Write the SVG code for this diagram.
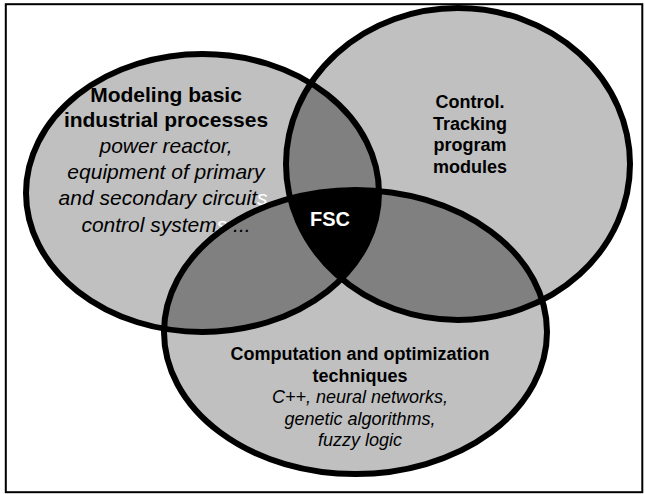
<svg xmlns="http://www.w3.org/2000/svg" xmlns:xlink="http://www.w3.org/1999/xlink" width="645" height="494" viewBox="0 0 645 494">
<style>
.outline{fill:none;stroke:#000;stroke-width:6}
.b{font-family:"Liberation Sans",Arial,sans-serif;font-weight:bold;fill:#000;text-anchor:middle}
.i{font-family:"Liberation Sans",Arial,sans-serif;font-style:italic;fill:#000;text-anchor:middle}
.w{fill:#fff}
</style>
<defs>
<ellipse id="eL" cx="202.5" cy="193" rx="176.5" ry="139"/>
<ellipse id="eR" cx="458" cy="164" rx="172" ry="156"/>
<ellipse id="eB" cx="355.5" cy="332" rx="191.5" ry="142"/>
<clipPath id="cL"><use xlink:href="#eL"/></clipPath>
<clipPath id="cR"><use xlink:href="#eR"/></clipPath>
</defs>
<rect x="5.8" y="4.2" width="636.5" height="488" fill="#fff" stroke="#000" stroke-width="2"/>
<g id="regions">
<use xlink:href="#eL" fill="#c0c0c0"/>
<use xlink:href="#eR" fill="#c0c0c0"/>
<use xlink:href="#eB" fill="#c0c0c0"/>
<g clip-path="url(#cL)"><use xlink:href="#eR" fill="#808080"/><use xlink:href="#eB" fill="#808080"/></g>
<g clip-path="url(#cR)"><use xlink:href="#eB" fill="#808080"/></g>
<g clip-path="url(#cL)"><g clip-path="url(#cR)"><use xlink:href="#eB" fill="#000"/></g></g>
</g>
<g id="node-modeling">
<use xlink:href="#eL" class="outline"/>
<text class="b" font-size="21" x="166" y="102">Modeling basic</text>
<text class="b" font-size="21" x="166" y="127">industrial processes</text>
<text class="i" font-size="21" x="166" y="153">power reactor,</text>
<text class="i" font-size="21" x="166" y="179">equipment of primary</text>
<text class="i" font-size="21" x="166" y="205">and secondary circuit<tspan class="w">s,</tspan></text>
<text class="i" font-size="21" x="166" y="232">control system<tspan class="w">s</tspan> ...</text>
</g>
<g id="node-control">
<use xlink:href="#eR" class="outline"/>
<text class="b" font-size="18" x="470" y="108">Control.</text>
<text class="b" font-size="18" x="470" y="129.5">Tracking</text>
<text class="b" font-size="18" x="470" y="151">program</text>
<text class="b" font-size="18" x="470" y="172.5">modules</text>
</g>
<g id="node-computation">
<use xlink:href="#eB" class="outline"/>
<text class="b" font-size="18" x="360" y="360">Computation and optimization</text>
<text class="b" font-size="18" x="360" y="381.5">techniques</text>
<text class="i" font-size="18" x="360" y="403">C++, neural networks,</text>
<text class="i" font-size="18" x="360" y="424.5">genetic algorithms,</text>
<text class="i" font-size="18" x="360" y="446">fuzzy logic</text>
</g>
<g id="node-fsc">
<text class="b" font-size="20" x="330" y="226" fill="#fff" style="fill:#fff">FSC</text>
</g>
<g id="connectors"/>
</svg>
